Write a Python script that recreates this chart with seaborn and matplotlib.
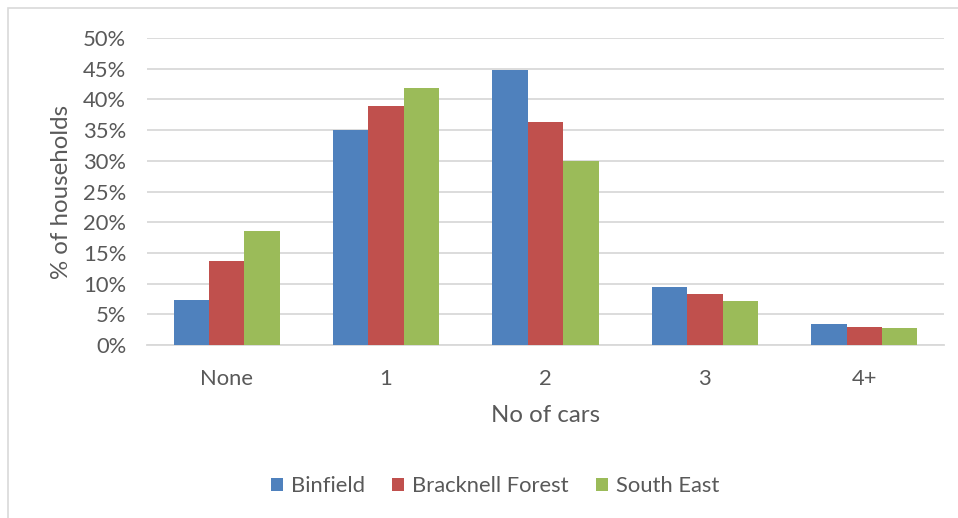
import matplotlib
matplotlib.use("Agg")
import matplotlib.pyplot as plt
import seaborn as sns
import pandas as pd
from matplotlib.patches import Rectangle, Patch
from matplotlib.ticker import FuncFormatter, MultipleLocator

categories = ["None", "1", "2", "3", "4+"]
series_names = ["Binfield", "Bracknell Forest", "South East"]
binfield = [7.4, 35.0, 44.8, 9.5, 3.4]
bracknell = [13.7, 38.9, 36.4, 8.3, 2.9]
south_east = [18.6, 41.8, 29.9, 7.2, 2.8]
colors = ["#4F81BD", "#C0504D", "#9BBB59"]

rows = []
for name, vals in zip(series_names, [binfield, bracknell, south_east]):
    for c, v in zip(categories, vals):
        rows.append({"cars": c, "area": name, "pct": v})
df = pd.DataFrame(rows)

sns.set_theme(style="white")
plt.rcParams['font.family'] = ['Lato', 'DejaVu Sans']
txt = "#595959"

fig = plt.figure(figsize=(9.58, 5.18), dpi=100)
ax = fig.add_axes([147/958, 1-345/518, (944-147)/958, (345-38)/518])

sns.barplot(data=df, x="cars", y="pct", hue="area", order=categories,
            hue_order=series_names, palette=colors, width=0.667,
            saturation=1, ax=ax, legend=False, zorder=3, linewidth=0)

ax.set_ylim(0, 50)
ax.set_xlim(-0.5, 4.5)
ax.yaxis.set_major_locator(MultipleLocator(5))
ax.yaxis.set_major_formatter(FuncFormatter(lambda v, p: f"{int(round(v))}%"))
ax.grid(axis="y", color="#D9D9D9", linewidth=1.3, zorder=0)
ax.set_axisbelow(True)
for s in ["top", "right", "left"]:
    ax.spines[s].set_visible(False)
ax.spines["bottom"].set_color("#D9D9D9")
ax.spines["bottom"].set_linewidth(1.3)
ax.tick_params(axis="both", length=0, labelsize=15.8, colors=txt)
ax.tick_params(axis="x", pad=17)
ax.tick_params(axis="y", pad=15)
ax.set_xlabel("No of cars", fontsize=17.3, color=txt, labelpad=12)
ax.set_ylabel("% of households", fontsize=17.3, color=txt, labelpad=8)

handles = [Patch(facecolor=c, edgecolor="none") for c in colors]
fig.legend(handles, series_names, loc="center", bbox_to_anchor=(495/958, 1-486/518),
           ncol=3, frameon=False, fontsize=15.8, labelcolor=txt,
           handlelength=0.55, handleheight=0.55, handletextpad=0.35, columnspacing=1.25)

fig.patches.append(Rectangle((8/958, -0.1), 1.2, 1-8/518+0.1, transform=fig.transFigure,
                             fill=False, edgecolor="#D9D9D9", linewidth=1.2))

fig.savefig("out.png", dpi=100)
